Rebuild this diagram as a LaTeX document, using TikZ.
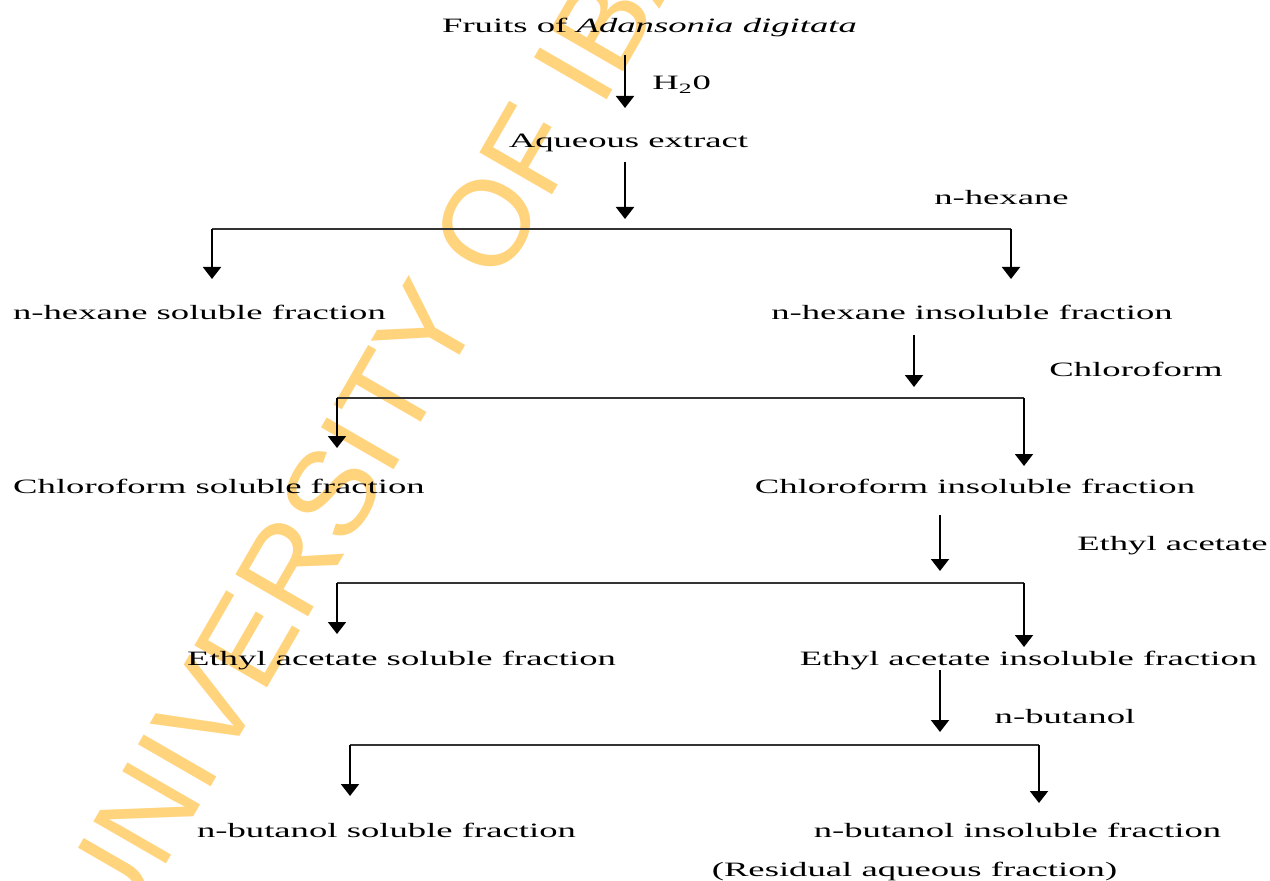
\documentclass[tikz,border=0pt]{standalone}
\usepackage{fontspec}
\setmainfont{Liberation Serif}[FakeStretch=1.8]
\newfontfamily\wmfont{Liberation Sans}
\usetikzlibrary{arrows.meta}
\definecolor{wmyellow}{RGB}{255,212,125}
\tikzset{
  lbl/.style={inner sep=0pt, anchor=base, font=\fontsize{11.6}{14}\selectfont},
  arr/.style={line width=1.1pt, -{Triangle[width=0.36cm,length=0.24cm]}},
  bar/.style={line width=0.8pt, draw=black!80},
  wm/.style={inner sep=0pt, anchor=base west, rotate=60, text=wmyellow,
    font=\fontsize{69.4}{70}\selectfont\wmfont}
}
\begin{document}
\begin{tikzpicture}[x=0.02cm,y=-0.02cm]
\clip (0,0) rectangle (1270,881);
\fill[white] (0,0) rectangle (1270,881);
\node[wm] (stamp) at (117,949) {UNIVERSITY OF IBADAN};
\node[lbl] (fruits) at (649.5,33) {Fruits of \textit{Adansonia digitata}};
\node[lbl,anchor=base west] (water) at (652,90) {H\textsubscript{2}0};
\node[lbl] (aqueous) at (628.5,148) {Aqueous extract};
\node[lbl] (hexane) at (1001.5,205) {n-hexane};
\node[lbl] (hexsol) at (199.5,320) {n-hexane soluble fraction};
\node[lbl] (hexins) at (972,320) {n-hexane insoluble fraction};
\node[lbl] (chlo) at (1136,377) {Chloroform};
\node[lbl] (chlosol) at (219,493) {Chloroform soluble fraction};
\node[lbl] (chloins) at (975,493) {Chloroform insoluble fraction};
\node[lbl] (etac) at (1172.5,550) {Ethyl acetate};
\node[lbl] (etacsol) at (401.5,665) {Ethyl acetate soluble fraction};
\node[lbl] (etacins) at (1028.5,665) {Ethyl acetate insoluble fraction};
\node[lbl] (buta) at (1065,723) {n-butanol};
\node[lbl] (butsol) at (386.5,837) {n-butanol soluble fraction};
\node[lbl] (butins) at (1017.5,837) {n-butanol insoluble fraction};
\node[lbl] (resid) at (914.5,876) {(Residual aqueous fraction)};
\coordinate (fr-out) at (625,55);
\coordinate (aq-in) at (625,108);
\coordinate (aq-out) at (625,162);
\coordinate (hex-in) at (625,219);
\coordinate (hex-l) at (212,229);
\coordinate (hex-r) at (1011,229);
\coordinate (hexsol-in) at (212,279);
\coordinate (hexins-in) at (1011,279);
\coordinate (hexins-out) at (914,335);
\coordinate (chl-in) at (914,387);
\coordinate (chl-l) at (337,398);
\coordinate (chl-r) at (1024,398);
\coordinate (chlsol-in) at (337,448);
\coordinate (chlins-in) at (1024,466);
\coordinate (chlins-out) at (940,515);
\coordinate (eta-in) at (940,571);
\coordinate (eta-l) at (337,583);
\coordinate (eta-r) at (1024,583);
\coordinate (etasol-in) at (337,634);
\coordinate (etains-in) at (1024,647);
\coordinate (etains-out) at (940,670);
\coordinate (but-in) at (940,732);
\coordinate (but-l) at (350,745);
\coordinate (but-r) at (1039,745);
\coordinate (butsol-in) at (350,796);
\coordinate (butins-in) at (1039,803);
\draw[arr] (fr-out) -- (aq-in);
\draw[arr] (aq-out) -- (hex-in);
\draw[bar] (hex-l) -- (hex-r);
\draw[arr] (hex-l) -- (hexsol-in);
\draw[arr] (hex-r) -- (hexins-in);
\draw[arr] (hexins-out) -- (chl-in);
\draw[bar] (chl-l) -- (chl-r);
\draw[arr] (chl-l) -- (chlsol-in);
\draw[arr] (chl-r) -- (chlins-in);
\draw[arr] (chlins-out) -- (eta-in);
\draw[bar] (eta-l) -- (eta-r);
\draw[arr] (eta-l) -- (etasol-in);
\draw[arr] (eta-r) -- (etains-in);
\draw[arr] (etains-out) -- (but-in);
\draw[bar] (but-l) -- (but-r);
\draw[arr] (but-l) -- (butsol-in);
\draw[arr] (but-r) -- (butins-in);
\end{tikzpicture}
\end{document}
